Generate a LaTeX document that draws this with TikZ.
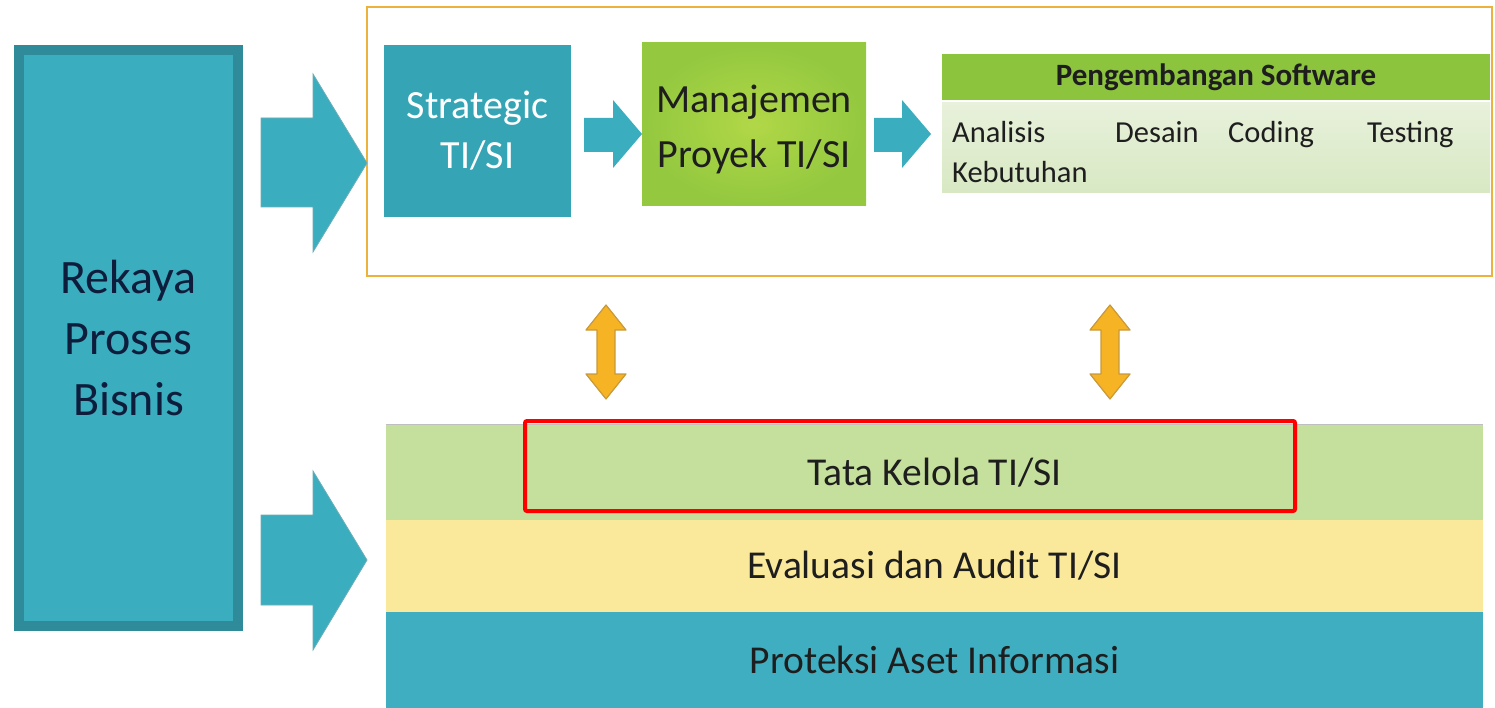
\documentclass[tikz,border=0pt]{standalone}
\usepackage{fontspec}
\setmainfont{Carlito}
\definecolor{tealbox}{HTML}{3AADBE}
\definecolor{tealedge}{HTML}{2F8A99}
\definecolor{tealdark}{HTML}{35A5B5}
\definecolor{navytext}{HTML}{0F1D3C}
\definecolor{greenbox}{HTML}{93C83F}
\definecolor{greenhead}{HTML}{8CC43E}
\definecolor{greenpale}{HTML}{D8E8C3}
\definecolor{greenband}{HTML}{C5E09C}
\definecolor{yellowband}{HTML}{FBE99B}
\definecolor{tealband}{HTML}{3FAEC0}
\definecolor{goldline}{HTML}{EDB23C}
\definecolor{orangefill}{HTML}{F6B324}
\definecolor{orangeedge}{HTML}{C99A3C}
\definecolor{textdark}{HTML}{1E1E1E}
\tikzset{
  plainbox/.style={rectangle, inner sep=0pt, align=center},
  band/.style={plainbox, minimum width=1097pt, minimum height=93pt,
    font=\fontsize{39.5}{44}\selectfont, text=textdark},
  steptext/.style={anchor=base west, inner sep=0pt, font=\fontsize{30.5}{34}\selectfont, text=textdark},
  bigarrow/.style={fill=tealbox, draw=tealedge!70, line width=0.8pt},
  smallarrow/.style={fill=tealbox},
  updown/.style={fill=orangefill, draw=orangeedge, line width=1.2pt, line join=round}
}
\begin{document}
\begin{tikzpicture}[x=1pt,y=-1pt]
\useasboundingbox (0,0) rectangle (1495,708);
\fill[white] (0,0) rectangle (1495,708);

% business process block on the left
\node[plainbox, fill=tealbox, draw=tealedge, line width=10pt,
      minimum width=219pt, minimum height=576pt,
      font=\fontsize{48}{61}\selectfont, text=navytext] (rekaya) at (128.5,338)
      {Rekaya\\Proses\\Bisnis};

% upper frame: strategy, project management, software development
\node[plainbox, draw=goldline, line width=2pt, fill=white,
      minimum width=1125pt, minimum height=269pt] (top) at (929.5,141.5) {};

\node[plainbox, fill=tealdark, minimum width=187pt, minimum height=172pt,
      font=\fontsize{40}{50}\selectfont, text=white] (strat) at (477.5,131)
      {Strategic\\TI/SI};

\node[plainbox, shading=radial, inner color=greenbox!80!yellow!90!white, outer color=greenbox,
      minimum width=224pt, minimum height=163pt] (proj) at (754,124.5) {};
\node[plainbox, font=\fontsize{40}{55}\selectfont, text=textdark] (projtext) at (754,129.5)
      {Manajemen\\Proyek TI/SI};

\node[plainbox, fill=greenhead, minimum width=548pt, minimum height=46pt,
      font=\bfseries\fontsize{31}{34}\selectfont, text=textdark] (dev) at (1216,77)
      {Pengembangan Software};
\node[plainbox, top color=greenpale!60!white, bottom color=greenpale,
      minimum width=548pt, minimum height=90pt] (devbody) at (1216,148) {};

\node[steptext] (analisis) at (952,143) {Analisis};
\node[steptext] (kebutuhan) at (952,183) {Kebutuhan};
\node[steptext] (desain) at (1115,143) {Desain};
\node[steptext] (coding) at (1228,143) {Coding};
\node[steptext] (testing) at (1367,143) {Testing};

% flow arrows inside the upper frame
\fill[smallarrow] (584,118) -- (613,118) -- (613,100) -- (642,134) -- (613,168)
  -- (613,152) -- (584,152) -- cycle;
\fill[smallarrow] (874,118) -- (902,118) -- (902,100) -- (931,134) -- (902,168)
  -- (902,152) -- (874,152) -- cycle;

% lower stack of layers
\node[band, fill=greenband, minimum height=95pt] (tata) at (934.5,472.5) {Tata Kelola TI/SI};
\node[band, fill=yellowband] (audit) at (934.5,566) {Evaluasi dan Audit TI/SI};
\node[band, fill=tealband, minimum height=96pt] (proteksi) at (934.5,660) {Proteksi Aset Informasi};
\draw[black!25, line width=0.8pt] (tata.north west) -- (tata.north east);

% highlight around the governance layer
\node[plainbox, draw=red, line width=4pt, rounded corners=2pt,
      minimum width=770pt, minimum height=90pt] (focus) at (910,466) {};

% block arrows from the business process block
\filldraw[bigarrow] (261,118) -- (313,118) -- (313,74) -- (367,163) -- (313,252)
  -- (313,207) -- (261,207) -- cycle;
\filldraw[bigarrow] (261,515) -- (313,515) -- (313,471) -- (367,560) -- (313,650)
  -- (313,605) -- (261,605) -- cycle;

% two-way links between the upper frame and the layer stack
\filldraw[updown] (606,305) -- (626,330) -- (615,330) -- (615,374) -- (626,374)
  -- (606,399) -- (586,374) -- (597,374) -- (597,330) -- (586,330) -- cycle;
\filldraw[updown] (1110,305) -- (1130,330) -- (1119,330) -- (1119,374) -- (1130,374)
  -- (1110,399) -- (1090,374) -- (1101,374) -- (1101,330) -- (1090,330) -- cycle;
\end{tikzpicture}
\end{document}
